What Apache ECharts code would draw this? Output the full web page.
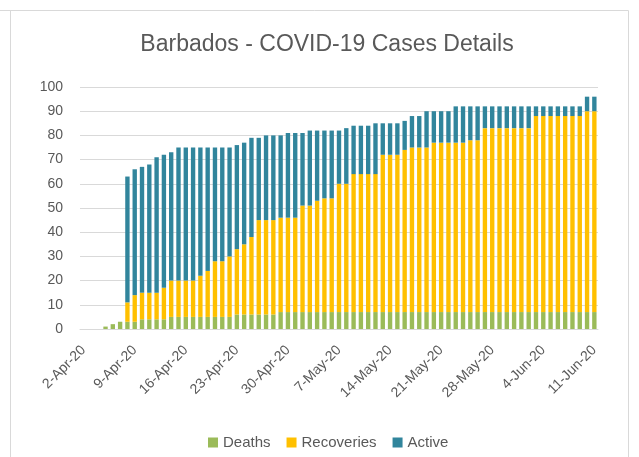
<!DOCTYPE html>
<html>
<head>
<meta charset="utf-8">
<script src="https://cdn.jsdelivr.net/npm/echarts@6/dist/echarts.min.js"></script>
<style>
  html, body { margin: 0; padding: 0; background: #fff; }
  #chart { width: 639px; height: 457px; }
</style>
</head>
<body>
<div id="chart"></div>
<script>
var dates = [
    '2-Apr-20', '3-Apr-20', '4-Apr-20', '5-Apr-20', '6-Apr-20', '7-Apr-20', '8-Apr-20',
    '9-Apr-20', '10-Apr-20', '11-Apr-20', '12-Apr-20', '13-Apr-20', '14-Apr-20', '15-Apr-20',
    '16-Apr-20', '17-Apr-20', '18-Apr-20', '19-Apr-20', '20-Apr-20', '21-Apr-20', '22-Apr-20',
    '23-Apr-20', '24-Apr-20', '25-Apr-20', '26-Apr-20', '27-Apr-20', '28-Apr-20', '29-Apr-20',
    '30-Apr-20', '1-May-20', '2-May-20', '3-May-20', '4-May-20', '5-May-20', '6-May-20',
    '7-May-20', '8-May-20', '9-May-20', '10-May-20', '11-May-20', '12-May-20', '13-May-20',
    '14-May-20', '15-May-20', '16-May-20', '17-May-20', '18-May-20', '19-May-20', '20-May-20',
    '21-May-20', '22-May-20', '23-May-20', '24-May-20', '25-May-20', '26-May-20', '27-May-20',
    '28-May-20', '29-May-20', '30-May-20', '31-May-20', '1-Jun-20', '2-Jun-20', '3-Jun-20',
    '4-Jun-20', '5-Jun-20', '6-Jun-20', '7-Jun-20', '8-Jun-20', '9-Jun-20', '10-Jun-20',
    '11-Jun-20'
];

var deaths = [
    0, 0, 0, 1, 2, 3, 3,
    3, 4, 4, 4, 4, 5, 5,
    5, 5, 5, 5, 5, 5, 5,
    6, 6, 6, 6, 6, 6, 7,
    7, 7, 7, 7, 7, 7, 7,
    7, 7, 7, 7, 7, 7, 7,
    7, 7, 7, 7, 7, 7, 7,
    7, 7, 7, 7, 7, 7, 7,
    7, 7, 7, 7, 7, 7, 7,
    7, 7, 7, 7, 7, 7, 7,
    7
];

var recoveries = [
    0, 0, 0, 0, 0, 0, 8,
    11, 11, 11, 11, 13, 15, 15,
    15, 15, 17, 19, 23, 23, 25,
    27, 29, 32, 39, 39, 39, 39,
    39, 39, 44, 44, 46, 47, 47,
    53, 53, 57, 57, 57, 57, 65,
    65, 65, 67, 68, 68, 68, 70,
    70, 70, 70, 70, 71, 71, 76,
    76, 76, 76, 76, 76, 76, 81,
    81, 81, 81, 81, 81, 81, 83,
    83
];

var active = [
    0, 0, 0, 0, 0, 0, 52,
    52, 52, 53, 56, 55, 53, 55,
    55, 55, 53, 51, 47, 47, 45,
    43, 42, 41, 34, 35, 35, 34,
    35, 35, 30, 31, 29, 28, 28,
    22, 23, 20, 20, 20, 21, 13,
    13, 13, 12, 13, 13, 15, 13,
    13, 13, 15, 15, 14, 14, 9,
    9, 9, 9, 9, 9, 9, 4,
    4, 4, 4, 4, 4, 4, 6,
    6
];

var yTicks = { min: 0, max: 100, step: 10 };

var colors = ['#9bbb59', '#ffc000', '#31859c'];
var textColor = '#595959';
var fontName = 'Liberation Sans';

var dom = document.getElementById('chart');
var myChart = echarts.init(dom, null, { renderer: 'canvas' });

function barSeries(name, values) {
    return {
        name: name,
        type: 'bar',
        stack: 'cases',
        barCategoryGap: '40%',
        data: values
    };
}

var option = {
    animation: false,
    color: colors,
    textStyle: { fontFamily: fontName },
    title: {
        text: 'Barbados - COVID-19 Cases Details',
        left: 322,
        textAlign: 'center',
        top: 28,
        textStyle: {
            color: textColor,
            fontSize: 23,
            fontWeight: 'normal',
            fontFamily: fontName
        }
    },
    legend: {
        data: ['Deaths', 'Recoveries', 'Active'],
        left: 203,
        top: 430,
        icon: 'rect',
        itemWidth: 10,
        itemHeight: 10,
        itemGap: 16,
        textStyle: { color: textColor, fontSize: 15, fontFamily: fontName }
    },
    grid: {
        left: 80,
        right: 41,
        top: 87,
        bottom: 128,
        containLabel: false
    },
    xAxis: {
        type: 'category',
        data: dates,
        axisTick: { show: false },
        axisLine: { lineStyle: { color: '#d9d9d9', width: 1 } },
        axisLabel: {
            interval: 6,
            rotate: 45,
            margin: 19,
            color: textColor,
            fontSize: 14,
            fontFamily: fontName
        }
    },
    yAxis: {
        type: 'value',
        min: yTicks.min,
        max: yTicks.max,
        interval: yTicks.step,
        axisLine: { show: false },
        axisTick: { show: false },
        splitLine: { lineStyle: { color: '#d9d9d9', width: 1 } },
        axisLabel: {
            margin: 17,
            color: textColor,
            fontSize: 14,
            fontFamily: fontName
        }
    },
    graphic: [
        {
            type: 'polyline',
            silent: true,
            shape: { points: [[0, 10.5], [628.5, 10.5], [628.5, 457]] },
            style: { stroke: '#d9d9d9', fill: null, lineWidth: 1 }
        },
        {
            type: 'line',
            silent: true,
            shape: { x1: 10.5, y1: 10.5, x2: 10.5, y2: 457 },
            style: { stroke: '#d9d9d9', lineWidth: 1 }
        }
    ],
    series: [
        barSeries('Deaths', deaths),
        barSeries('Recoveries', recoveries),
        barSeries('Active', active)
    ]
};
myChart.setOption(option, true);
</script>
</body>
</html>
